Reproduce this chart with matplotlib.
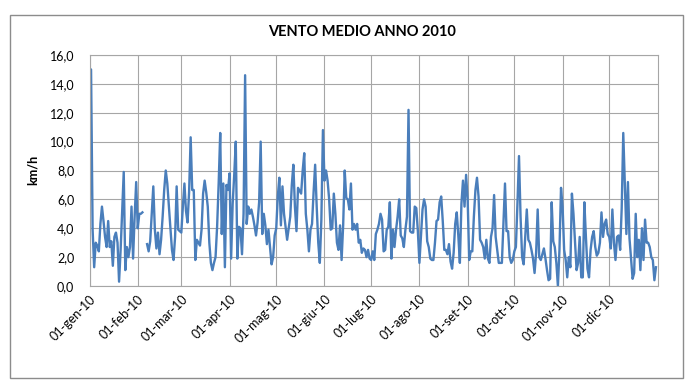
import numpy as np
import matplotlib
matplotlib.use("Agg")
import matplotlib.pyplot as plt
from matplotlib.patches import Rectangle

plt.rcParams['font.family'] = ['Lato', 'DejaVu Sans']

nan = np.nan
gen = [3.4, 15.0, 3.9, 1.3, 3.0, 2.8, 2.4, 4.3, 5.5, 4.5, 3.4, 2.7, 4.5, 2.7, 3.1, 1.4,
       3.4, 3.7, 3.0, 0.3, 2.5, 5.2, 7.9, 1.1, 2.7, 2.0, 2.7, 5.5, 1.9, 4.8, 7.2]
feb = [4.0, 5.0, 5.0, 5.1, nan, nan, 2.9, 2.4, 3.1, 5.0, 6.9, 3.9, 2.6, 3.7, 2.2, 3.2,
       4.8, 6.65, 8.0, 7.1, 5.5, 4.0, 2.5, 1.8, 3.4, 6.9, 3.9, 3.8]
mar = [3.7, 5.5, 7.1, 5.2, 4.4, 6.5, 10.3, 6.65, 6.65, 1.8, 3.2, 3.0, 2.8, 3.9, 6.4, 7.3,
       6.5, 5.5, 3.0, 1.6, 1.1, 1.6, 2.0, 4.1, 7.1, 10.6, 3.6, 7.1, 1.3, 7.0, 6.65]
apr = [7.8, 1.9, 5.7, 7.7, 10.0, 1.9, 4.1, 4.0, 2.2, 5.0, 14.6, 4.3, 5.5, 5.0, 5.3, 4.8,
       4.2, 3.5, 4.4, 5.8, 10.0, 3.6, 5.0, 4.2, 2.9, 3.9, 2.7, 1.5, 2.0, 3.5]
mag = [4.0, 6.2, 7.5, 4.2, 6.9, 5.0, 4.1, 3.2, 4.0, 4.8, 7.0, 8.4, 5.5, 3.8, 6.8, 6.6,
       6.4, 8.0, 9.2, 5.0, 3.9, 2.4, 3.9, 4.3, 6.5, 8.4, 5.5, 3.0, 1.6, 4.6, 10.8]
giu = [7.3, 8.0, 7.3, 6.0, 3.9, 4.0, 6.4, 5.0, 3.0, 2.5, 4.2, 1.8, 4.2, 8.0, 6.1, 6.0,
       5.3, 7.1, 3.9, 4.3, 3.9, 4.3, 3.0, 3.2, 2.3, 2.6, 2.5, 2.0, 2.5, 1.9]
lug = [1.8, 2.4, 1.8, 3.6, 3.9, 4.3, 5.0, 4.6, 2.4, 2.5, 3.9, 4.1, 5.8, 1.9, 3.9, 2.7,
       3.9, 4.8, 6.0, 3.5, 3.3, 2.7, 3.9, 4.8, 12.2, 3.8, 3.7, 3.7, 5.5, 5.4, 3.8]
ago = [1.6, 3.4, 5.3, 6.0, 5.5, 3.1, 2.7, 1.9, 1.8, 1.8, 3.0, 4.5, 4.6, 5.8, 6.2, 4.5,
       2.5, 2.5, 2.2, 2.9, 1.7, 1.2, 2.3, 4.3, 5.1, 3.5, 1.6, 5.7, 7.3, 5.5, 7.7]
sett = [6.0, 1.8, 2.4, 2.4, 4.8, 6.65, 7.5, 6.2, 3.2, 3.0, 2.7, 1.9, 3.2, 1.9, 1.6, 3.4,
        4.0, 6.3, 3.4, 2.5, 1.6, 1.6, 1.6, 4.3, 7.1, 3.8, 3.8, 2.0, 1.6, 1.8]
ott = [2.4, 2.7, 5.7, 9.0, 4.8, 2.0, 1.5, 3.4, 5.3, 3.2, 3.0, 2.5, 1.9, 0.9, 2.3, 5.3,
       2.0, 1.8, 2.2, 2.6, 1.9, 1.1, 0.4, 0.5, 5.8, 3.1, 2.7, 1.6, 0.0, 2.5, 6.8]
nov = [5.5, 2.5, 1.8, 0.6, 2.0, 1.3, 6.4, 5.0, 3.0, 1.1, 1.6, 3.4, 0.6, 0.6, 5.8, 3.4,
       1.2, 0.6, 2.5, 3.4, 3.8, 2.7, 2.1, 2.3, 3.0, 5.1, 3.4, 4.3, 4.6, 3.6]
dic = [3.4, 2.6, 5.3, 3.0, 1.8, 3.4, 3.5, 2.5, 5.4, 10.6, 7.1, 3.6, 7.2, 3.3, 1.9, 0.5,
       0.9, 5.0, 2.0, 3.2, 1.1, 4.0, 1.8, 4.6, 3.0, 3.0, 2.7, 2.0, 1.8, 0.4, 1.3]

months = [gen, feb, mar, apr, mag, giu, lug, ago, sett, ott, nov, dic]
month_labels = ["01-gen-10", "01-feb-10", "01-mar-10", "01-apr-10", "01-mag-10", "01-giu-10",
                "01-lug-10", "01-ago-10", "01-set-10", "01-ott-10", "01-nov-10", "01-dic-10"]
y_ticks = [0, 2, 4, 6, 8, 10, 12, 14, 16]

values = np.concatenate([np.array(m, dtype=float) for m in months])
days = np.arange(len(values))
lengths = [len(m) for m in months]
month_starts = np.concatenate([[0], np.cumsum(lengths)[:-1]])

W, H = 692, 386
fig = plt.figure(figsize=(W / 100, H / 100), dpi=100)
fig.patches.append(Rectangle((10 / W, 1 - 378 / H), 673 / W, 363 / H,
                             transform=fig.transFigure, fill=False,
                             edgecolor='#8c8c8c', lw=1.0))

ax = fig.add_axes([89.5 / W, 1 - 286 / H, 568 / W, 231 / H])
ax.plot(days, values, color='#4a7ebb', lw=1.7, solid_joinstyle='round')
ax.set_xlim(0, len(values))
ax.set_ylim(0, 16)
ax.set_yticks(y_ticks)
ax.set_yticklabels([f"{v:.1f}".replace('.', ',') for v in y_ticks], fontsize=9)
ax.set_xticks(month_starts)
ax.set_xticklabels(month_labels, rotation=45, ha='right', va='top',
                   rotation_mode='anchor', fontsize=9)
ax.grid(True, color='#a6a6a6', lw=0.8)
ax.set_axisbelow(True)
for s in ax.spines.values():
    s.set_color('#a6a6a6')
    s.set_linewidth(0.8)
ax.tick_params(axis='both', length=0)
ax.tick_params(axis='y', pad=11)
ax.tick_params(axis='x', pad=5)

fig.text(362 / W, 1 - 32 / H, "VENTO MEDIO ANNO 2010", ha='center', va='center',
         fontsize=10.5, fontweight='bold')
fig.text(33 / W, 1 - 170 / H, "km/h", rotation=90, ha='center', va='center',
         fontsize=9, fontweight='bold')

fig.savefig("out.png", dpi=100)
